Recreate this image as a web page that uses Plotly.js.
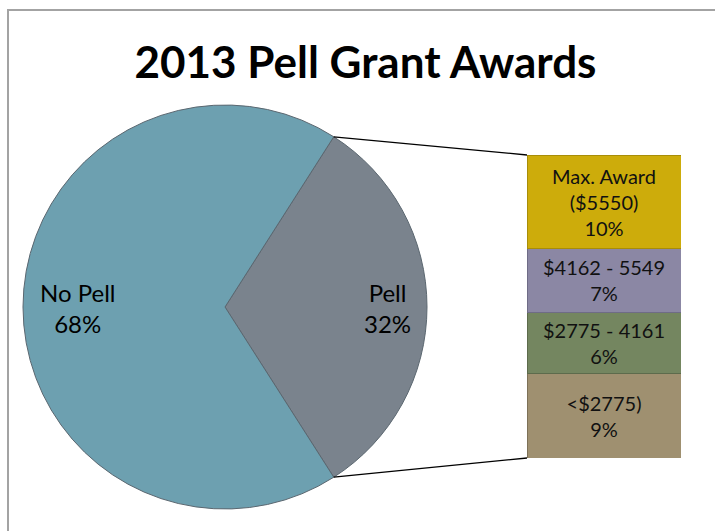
<!DOCTYPE html>
<html><head><meta charset="utf-8">
<script src="https://cdn.plot.ly/plotly-3.0.1.min.js"></script>
<style>html,body{margin:0;padding:0;background:#fff}#chart{width:715px;height:531px}</style>
</head><body><div id="chart"></div>
<script>
// ---- data ----
const titleText = '2013 Pell Grant Awards';
const pieLabels = ['Pell', 'No Pell'];
const noPellValue = 68.1;
const barLabels = ['<$2775)', '$2775 - 4161', '$4162 - 5549', 'Max. Award\n($5550)'];
const barValues = [8.9, 6.4, 6.8, 9.8];
// ---- styles ----
const barColors = ['#9F9070', '#748660', '#8B87A4', '#CDAC0B'];
const barLines = ['#7d7158', '#5d6b4c', '#6f6c86', '#a88d08'];
const pieColors = ['#7A838D', '#6DA0B0'];
const W = 715, H = 531;
const FONT = 'Lato, "Open Sans", sans-serif';

const pellTotal = barValues.reduce((a, b) => a + b, 0);
const pieValues = [pellTotal, noPellValue];
const pieTotal = pellTotal + noPellValue;
const pellShare = pellTotal / pieTotal;
const rotation = 90 - pellShare * 180;

// pie geometry (pixels)
const cx = 225, cy = 307, R = 202;
// label radial position (fraction of radius) and vertical nudge, per slice
const labelRad = [0.805, 0.73];
const labelMid = [0, Math.PI]; // mid-angles: Pell to the right, No Pell to the left
// bar geometry (pixels)
const bx0 = 527, bx1 = 681, by0 = 155, by1 = 458;

function esc(s) { return s.replace(/&/g, '&amp;').replace(/</g, '&lt;').replace(/>/g, '&gt;').replace(/\n/g, '<br>'); }

const traces = [];
traces.push({
  type: 'pie',
  labels: pieLabels,
  values: pieValues,
  sort: false,
  direction: 'clockwise',
  rotation: rotation,
  textinfo: 'none',
  marker: {colors: pieColors, line: {color: '#5b6770', width: 1}},
  domain: {x: [(cx - R) / W, (cx + R) / W], y: [1 - (cy + R) / H, 1 - (cy - R) / H]},
  hoverinfo: 'none',
  showlegend: false
});

barValues.forEach((v, i) => {
  traces.push({
    type: 'bar',
    x: [0],
    y: [v],
    width: [1],
    xaxis: 'x', yaxis: 'y',
    text: [esc(barLabels[i]) + '<br>' + Math.round(v) + '%'],
    texttemplate: '%{text}',
    textposition: 'inside',
    insidetextanchor: 'middle',
    textangle: 0,
    constraintext: 'none',
    textfont: {family: FONT, size: 20, color: '#111'},
    marker: {color: barColors[i], line: {color: barLines[i], width: 1}},
    hoverinfo: 'none',
    showlegend: false
  });
});

// pie labels as annotations placed on each slice's mid-angle
const annotations = pieLabels.map((lab, i) => {
  const px = cx + labelRad[i] * R * Math.cos(labelMid[i]);
  const py = cy + 1 - labelRad[i] * R * Math.sin(labelMid[i]);
  return {
    xref: 'paper', yref: 'paper', x: px / W, y: 1 - py / H,
    xanchor: 'center', yanchor: 'middle', showarrow: false,
    text: esc(lab) + '<br>' + Math.round(pieValues[i] / pieTotal * 100) + '%',
    font: {family: FONT, size: 24, color: '#000'}
  };
});

// connector lines: from Pell slice edge points to bar corners
const half = pellShare * Math.PI;
const pTop = [cx + R * Math.cos(half), cy - R * Math.sin(half)];
const pBot = [cx + R * Math.cos(half), cy + R * Math.sin(half)];
const shapes = [
  {type: 'rect', xref: 'paper', yref: 'paper', x0: 8 / W, x1: 1.1, y0: -0.1, y1: 1 - 10 / H,
   line: {color: '#a3a3a3', width: 2}, fillcolor: 'rgba(0,0,0,0)', layer: 'below'},
  {type: 'line', xref: 'paper', yref: 'paper', x0: pTop[0] / W, y0: 1 - pTop[1] / H, x1: bx0 / W, y1: 1 - by0 / H,
   line: {color: '#000', width: 1.3}},
  {type: 'line', xref: 'paper', yref: 'paper', x0: pBot[0] / W, y0: 1 - pBot[1] / H, x1: bx0 / W, y1: 1 - by1 / H,
   line: {color: '#000', width: 1.3}}
];

const layout = {
  width: W, height: H,
  margin: {l: 0, r: 0, t: 0, b: 0},
  paper_bgcolor: '#fff', plot_bgcolor: 'rgba(0,0,0,0)',
  title: {text: '<b>' + titleText + '</b>', font: {family: FONT, size: 44, color: '#000'},
          xref: 'container', x: 365.5 / W, xanchor: 'center',
          yref: 'container', y: 1 - 63 / H, yanchor: 'middle'},
  barmode: 'stack', bargap: 0,
  xaxis: {domain: [bx0 / W, bx1 / W], range: [-0.5, 0.5], visible: false, fixedrange: true},
  yaxis: {domain: [1 - by1 / H, 1 - by0 / H], range: [0, pellTotal], visible: false, fixedrange: true},
  shapes: shapes,
  annotations: annotations,
  showlegend: false
};

Plotly.newPlot('chart', traces, layout, {staticPlot: true, displayModeBar: false});
</script>
</body></html>
